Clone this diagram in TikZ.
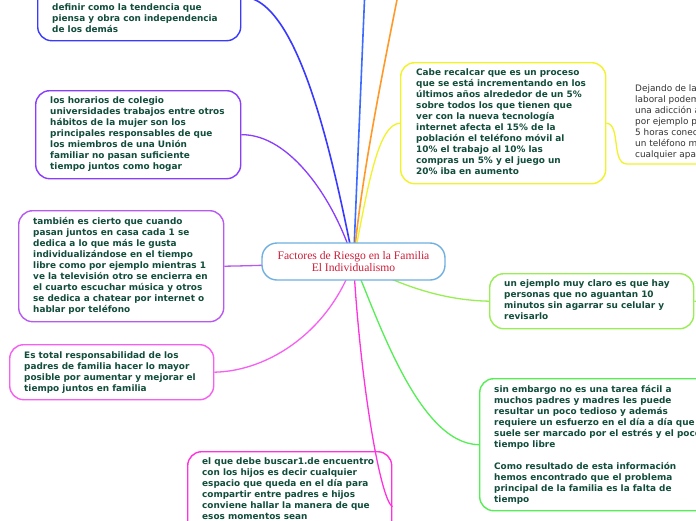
\documentclass[tikz,border=0pt]{standalone}
\usepackage{fontspec}
\setmainfont{DejaVu Sans}
\newfontfamily\titlefont{Liberation Serif}
\usetikzlibrary{backgrounds,calc}
\definecolor{txt}{HTML}{124D3C}
\definecolor{cA}{HTML}{3A3AFF}
\definecolor{cLB}{HTML}{3B6BFF}
\definecolor{cOr}{HTML}{FF9A2A}
\definecolor{cF}{HTML}{F2F22A}
\definecolor{cB}{HTML}{8A3CFF}
\definecolor{cC}{HTML}{B85AF0}
\definecolor{cD}{HTML}{F560F0}
\definecolor{cE}{HTML}{FF33DD}
\definecolor{cG}{HTML}{99EE55}
\definecolor{cH}{HTML}{55EE55}
\definecolor{cCen}{HTML}{70B0E0}
\definecolor{cTitle}{HTML}{CC1F3A}
\definecolor{gray3}{HTML}{333333}
\begin{document}
\begin{tikzpicture}[x=1pt,y=-1pt,
  bx/.style={draw, line width=1.4pt, rounded corners=14pt, inner sep=0pt, anchor=north west},
  tx/.style={font=\fontsize{8.9}{11}\selectfont\bfseries, text=txt, align=left, inner sep=0pt},
  conn/.style={line width=1.3pt}]
\useasboundingbox (0,0) rectangle (696,520);
\clip (0,0) rectangle (696,520);
% boxes
\node[bx, draw=cA, minimum width=203pt, minimum height=88pt] (bA) at (37,-48) {};
\node[bx, draw=cB, minimum width=205pt, minimum height=88pt] (bB) at (35,90) {};
\node[bx, draw=cC, minimum width=205pt, minimum height=111pt] (bC) at (18,210) {};
\node[bx, draw=cD, minimum width=204pt, minimum height=55pt] (bD) at (9,344) {};
\node[bx, draw=cE, minimum width=204pt, minimum height=110pt] (bE) at (187,451) {};
\node[bx, draw=cF, minimum width=205pt, minimum height=121pt] (bF) at (400,62) {};
\node[bx, draw=cG, minimum width=204pt, minimum height=55pt] (bG) at (489,273) {};
\node[bx, draw=cH, minimum width=240pt, minimum height=132pt] (bH) at (479,378) {};
\node[draw=cCen, line width=1.4pt, fill=white, rounded corners=15pt, minimum width=183pt, minimum height=37pt, inner sep=0pt,
  font=\titlefont\fontsize{11.6}{12}\selectfont, text=cTitle, align=center] (c) at (353.5,261.5)
  {Factores de Riesgo en la Familia\\El Individualismo};
% texts
\node[tx, anchor=south west] (tA) at ($(bA.south west)+(15,-5.5)$)
 {\strut definir como la tendencia que\\piensa y obra con independencia\\de los demás\strut};
\node[tx, anchor=west] (tB) at ($(bB.west)+(15,0)$)
 {\strut los horarios de colegio\\universidades trabajos entre otros\\hábitos de la mujer son los\\principales responsables de que\\los miembros de una Unión\\familiar no pasan suficiente\\tiempo juntos como hogar\strut};
\node[tx, anchor=west] (tC) at ($(bC.west)+(15,0)$)
 {\strut también es cierto que cuando\\pasan juntos en casa cada 1 se\\dedica a lo que más le gusta\\individualizándose en el tiempo\\libre como por ejemplo mientras 1\\ve la televisión otro se encierra en\\el cuarto escuchar música y otros\\se dedica a chatear por internet o\\hablar por teléfono\strut};
\node[tx, anchor=west] (tD) at ($(bD.west)+(15,1)$)
 {\strut Es total responsabilidad de los\\padres de familia hacer lo mayor\\posible por aumentar y mejorar el\\tiempo juntos en familia\strut};
\node[tx, anchor=north west] (tE) at ($(bE.north west)+(15,5.5)$)
 {\strut el que debe buscar1.de encuentro\\con los hijos es decir cualquier\\espacio que queda en el día para\\compartir entre padres e hijos\\conviene hallar la manera de que\\esos momentos sean\strut};
\node[tx, anchor=west] (tF) at ($(bF.west)+(16,0)$)
 {\strut Cabe recalcar que es un proceso\\que se está incrementando en los\\últimos años alrededor de un 5\%\\sobre todos los que tienen que\\ver con la nueva tecnología\\internet afecta el 15\% de la\\población el teléfono móvil al\\10\% el trabajo al 10\% las\\compras un 5\% y el juego un\\20\% iba en aumento\strut};
\node[tx, anchor=west] (tG) at ($(bG.west)+(15,0)$)
 {\strut un ejemplo muy claro es que hay\\personas que no aguantan 10\\minutos sin agarrar su celular y\\revisarlo\strut};
\node[tx, anchor=west] (tH) at ($(bH.west)+(15,1)$)
 {\strut sin embargo no es una tarea fácil a\\muchos padres y madres les puede\\resultar un poco tedioso y además\\requiere un esfuerzo en el día a día que\\suele ser marcado por el estrés y el poco\\tiempo libre\\\mbox{}\\Como resultado de esta información\\hemos encontrado que el problema\\principal de la familia es la falta de\\tiempo\strut};
\node[font=\fontsize{8.9}{11}\selectfont, text=gray3, align=left, inner sep=0pt, anchor=north west] (dj) at (635,84)
 {\strut Dejando de la\\laboral podem\\una adicción a\\por ejemplo p\\5 horas conec\\un teléfono m\\cualquier apa\strut};
% free ends
\coordinate (topLB) at (367,-60);
\coordinate (topOr) at (409,-60);
\coordinate (dju) at (627,164);
\coordinate (dje) at (730,164);
\coordinate (gR) at (730,300);
% connectors
\begin{scope}[on background layer]
\fill[white] (-10,-10) rectangle (706,530);
\draw[conn, cA, line width=1.6pt] (bA.east) .. controls (300,-4) and (335,170) .. (c.center);
\draw[conn, cLB, line width=1.6pt] (c.center) -- (topLB);
\draw[conn, cOr, line width=1.6pt] (c.center) .. controls (362,170) and (385,60) .. (topOr);
\draw[conn, cF] (c.center) .. controls (368,185) and (378,124) .. (bF.west);
\draw[conn, cF] (bF.east) .. controls (621,124) and (611,164) .. (dju) -- (dje);
\draw[conn, cB] (bB.east) .. controls (290,134) and (335,200) .. (c.center);
\draw[conn, cC] (bC.east) .. controls (300,265) and (330,261) .. (c.center);
\draw[conn, cD] (c.center) .. controls (330,330) and (270,371) .. (bD.east);
\draw[conn, cG] (c.center) .. controls (400,285) and (440,300) .. (bG.west);
\draw[conn, cG] (bG.east) -- (gR);
\draw[conn, cH] (c.center) .. controls (380,325) and (420,444) .. (bH.west);
\draw[conn, cE] (c.center) .. controls (360,380) and (380,499) .. (bE.east);
\end{scope}
\end{tikzpicture}
\end{document}
